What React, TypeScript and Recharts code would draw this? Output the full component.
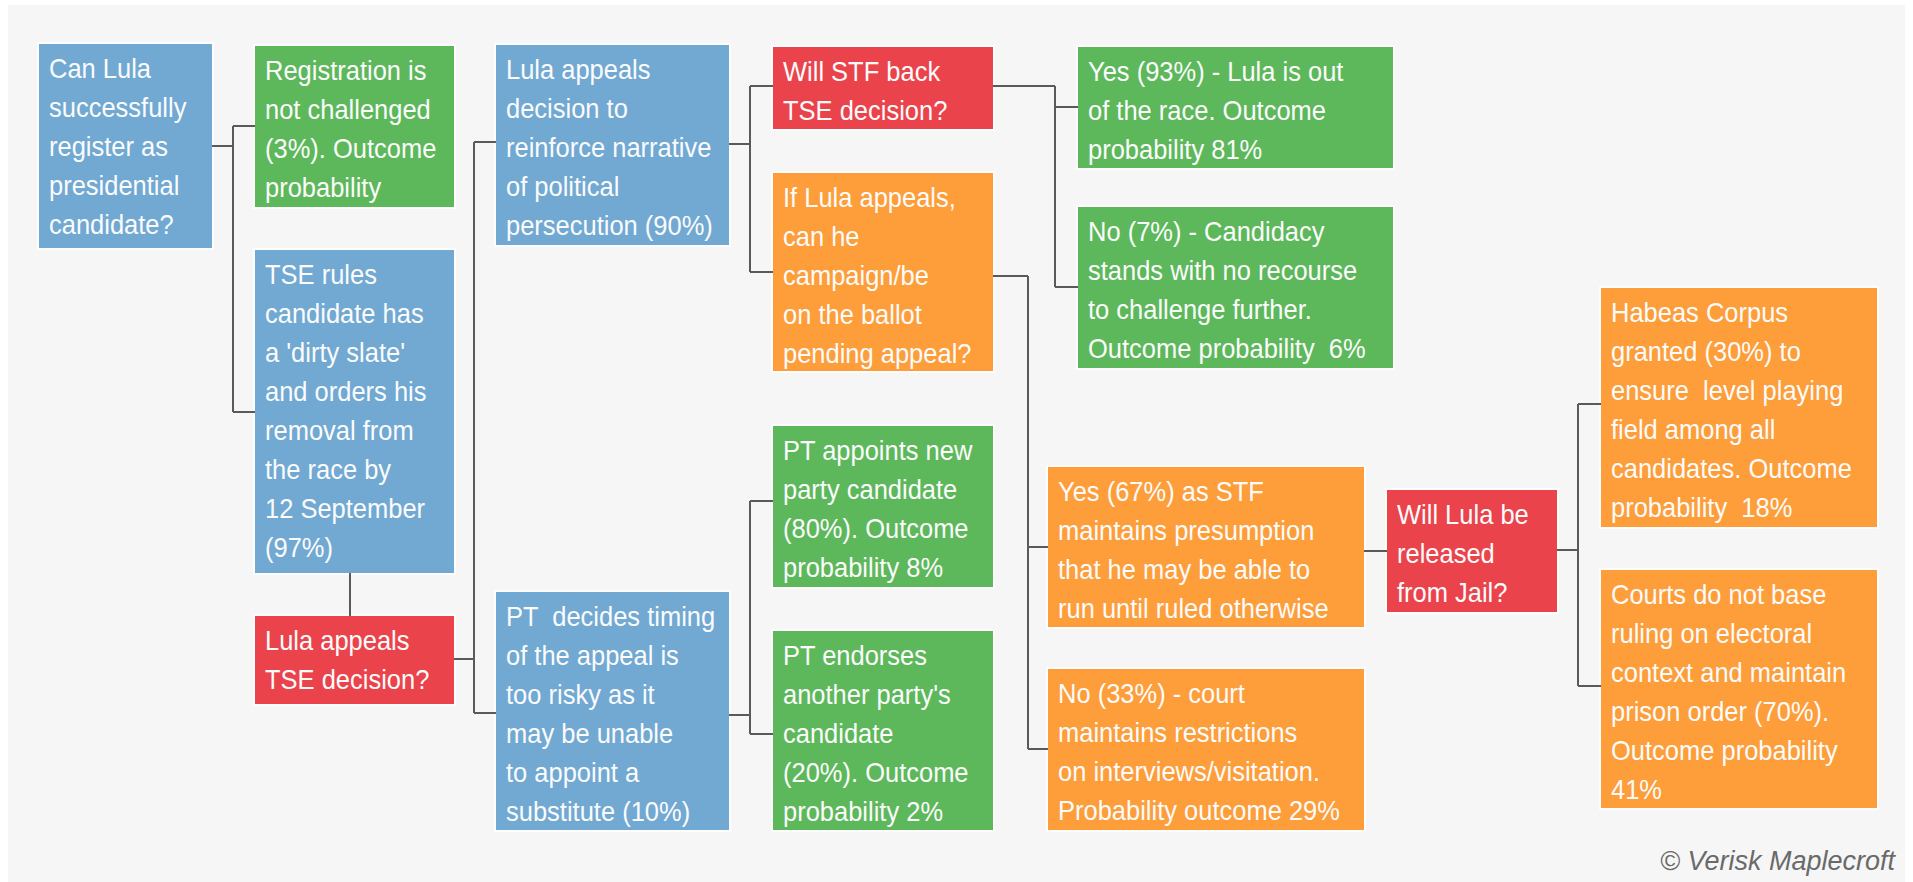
import React from 'react';
import { ScatterChart, Scatter, XAxis, YAxis, ReferenceArea, ReferenceLine } from 'recharts';

const CHART_W = 1913;
const CHART_H = 882;

// ---- node content ----
const nodeText: string[][] = [
  ['Can Lula', 'successfully', 'register as', 'presidential', 'candidate?'],
  ['Registration is', 'not challenged', '(3%). Outcome', 'probability'],
  ['TSE rules', 'candidate has', "a 'dirty slate'", 'and orders his', 'removal from', 'the race by', '12 September', '(97%)'],
  ['Lula appeals', 'TSE decision?'],
  ['Lula appeals', 'decision to', 'reinforce narrative', 'of political', 'persecution (90%)'],
  ['PT  decides timing', 'of the appeal is', 'too risky as it', 'may be unable', 'to appoint a', 'substitute (10%)'],
  ['Will STF back', 'TSE decision?'],
  ['If Lula appeals,', 'can he', 'campaign/be', 'on the ballot', 'pending appeal?'],
  ['PT appoints new', 'party candidate', '(80%). Outcome', 'probability 8%'],
  ['PT endorses', "another party's", 'candidate', '(20%). Outcome', 'probability 2%'],
  ['Yes (93%) - Lula is out', 'of the race. Outcome', 'probability 81%'],
  ['No (7%) - Candidacy', 'stands with no recourse', 'to challenge further.', 'Outcome probability  6%'],
  ['Yes (67%) as STF', 'maintains presumption', 'that he may be able to', 'run until ruled otherwise'],
  ['No (33%) - court', 'maintains restrictions', 'on interviews/visitation.', 'Probability outcome 29%'],
  ['Will Lula be', 'released', 'from Jail?'],
  ['Habeas Corpus', 'granted (30%) to', 'ensure  level playing', 'field among all', 'candidates. Outcome', 'probability  18%'],
  ['Courts do not base', 'ruling on electoral', 'context and maintain', 'prison order (70%).', 'Outcome probability', '41%'],
];

// node kind: 'step' (blue), 'outcome' (green), 'question' (red), 'branch' (orange)
const nodeKind: string[] = [
  'step', 'outcome', 'step', 'question', 'step', 'step', 'question', 'branch', 'outcome', 'outcome',
  'outcome', 'outcome', 'branch', 'branch', 'question', 'branch', 'branch',
];

// ---- node layout (data units of the diagram plane) ----
const nodeX1 = [39, 255, 255, 255, 496, 496, 773, 773, 773, 773, 1078, 1078, 1048, 1048, 1387, 1601, 1601];
const nodeX2 = [212, 454, 454, 454, 729, 729, 993, 993, 993, 993, 1393, 1393, 1364, 1364, 1557, 1877, 1877];
const nodeY1 = [44, 46, 250, 616, 45, 592, 47, 173, 426, 631, 47, 207, 467, 669, 490, 288, 570];
const nodeY2 = [248, 207, 573, 704, 245, 830, 129, 371, 587, 830, 168, 368, 627, 830, 612, 527, 808];

// ---- elbow connectors: parent edge x, exit y, trunk x, child edge x, child ys ----
const connFromX = [212, 454, 729, 729, 993, 993, 1364, 1557];
const connFromY = [146, 659, 144, 715, 86, 276, 551, 550];
const connTrunkX = [233, 474, 750, 750, 1055, 1028, 1387, 1578];
const connToX = [255, 496, 773, 773, 1078, 1048, 1387, 1601];
const connToY: number[][] = [[126, 412], [142, 713], [86, 272], [501, 734], [107, 287], [547, 749], [551], [404, 686]];
// straight vertical link (TSE rules -> Lula appeals TSE decision?)
const vertLinkX = [350];
const vertLinkY1 = [573];
const vertLinkY2 = [616];

const kindColor: Record<string, string> = {
  step: '#71a9d3',
  outcome: '#5db85b',
  question: '#ea434c',
  branch: '#fd9e3a',
};

const FONT = '"Liberation Sans", Arial, Helvetica, sans-serif';

function makeNodeShape(lines: string[], fill: string) {
  return (p: any) => {
    const { x, y, width, height } = p;
    return (
      <g>
        <rect x={x - 2} y={y - 2} width={width + 4} height={height + 4} fill="#fdfdfd" />
        <rect x={x} y={y} width={width} height={height} fill={fill} />
        {lines.map((ln, i) => (
          <text
            key={i}
            x={0}
            y={0}
            transform={`translate(${x + 10},${y + 34 + i * 39}) scale(1,1.07)`}
            fill="#fbfbfb"
            fontSize={25.5}
            fontFamily={FONT}
            style={{ whiteSpace: 'pre' }}
          >
            {ln}
          </text>
        ))}
      </g>
    );
  };
}

const copyrightShape = (p: any) => {
  const { x, y, width, height } = p;
  return (
    <text
      x={x + width}
      y={y + height - 9}
      textAnchor="end"
      fill="#6a6a6a"
      fontSize={27}
      fontStyle="italic"
      fontFamily={FONT}
    >
      © Verisk Maplecroft
    </text>
  );
};

const backgroundShape = (p: any) => {
  const { x, y, width, height } = p;
  return <rect x={x} y={y} width={width} height={height} fill="#f6f6f6" />;
};

export default function App() {
  const anchors = nodeX1.map((x1, i) => ({
    x: (x1 + nodeX2[i]) / 2,
    y: (nodeY1[i] + nodeY2[i]) / 2,
  }));

  const segments: { a: { x: number; y: number }; b: { x: number; y: number } }[] = [];
  connFromX.forEach((fx, i) => {
    const fy = connFromY[i];
    const tx = connTrunkX[i];
    const ys = connToY[i];
    segments.push({ a: { x: fx, y: fy }, b: { x: tx, y: fy } });
    const lo = Math.min(fy, ...ys);
    const hi = Math.max(fy, ...ys);
    if (hi > lo) segments.push({ a: { x: tx, y: lo }, b: { x: tx, y: hi } });
    ys.forEach((cy) => {
      if (connToX[i] > tx) segments.push({ a: { x: tx, y: cy }, b: { x: connToX[i], y: cy } });
    });
  });
  vertLinkX.forEach((vx, i) => {
    segments.push({ a: { x: vx, y: vertLinkY1[i] }, b: { x: vx, y: vertLinkY2[i] } });
  });

  return (
    <div style={{ position: 'absolute', left: 0, top: 0, width: CHART_W, height: CHART_H, background: '#ffffff' }}>
      <ScatterChart width={CHART_W} height={CHART_H} margin={{ top: 0, right: 0, bottom: 0, left: 0 }}>
        <XAxis type="number" dataKey="x" domain={[0, CHART_W]} allowDataOverflow hide />
        <YAxis type="number" dataKey="y" domain={[0, CHART_H]} allowDataOverflow reversed hide />
        <ReferenceArea x1={8} x2={1905} y1={5} y2={882} shape={backgroundShape} ifOverflow="visible" />
        {segments.map((s, i) => (
          <ReferenceLine
            key={'seg' + i}
            segment={[s.a, s.b]}
            stroke="#5a5a5a"
            strokeWidth={2}
            ifOverflow="visible"
          />
        ))}
        {nodeText.map((lines, i) => (
          <ReferenceArea
            key={'node' + i}
            x1={nodeX1[i]}
            x2={nodeX2[i]}
            y1={nodeY1[i]}
            y2={nodeY2[i]}
            ifOverflow="visible"
            shape={makeNodeShape(lines, kindColor[nodeKind[i]])}
          />
        ))}
        <ReferenceArea x1={1500} x2={1895} y1={840} y2={879} ifOverflow="visible" shape={copyrightShape} />
        <Scatter data={anchors} isAnimationActive={false} shape={() => <g />} />
      </ScatterChart>
    </div>
  );
}
